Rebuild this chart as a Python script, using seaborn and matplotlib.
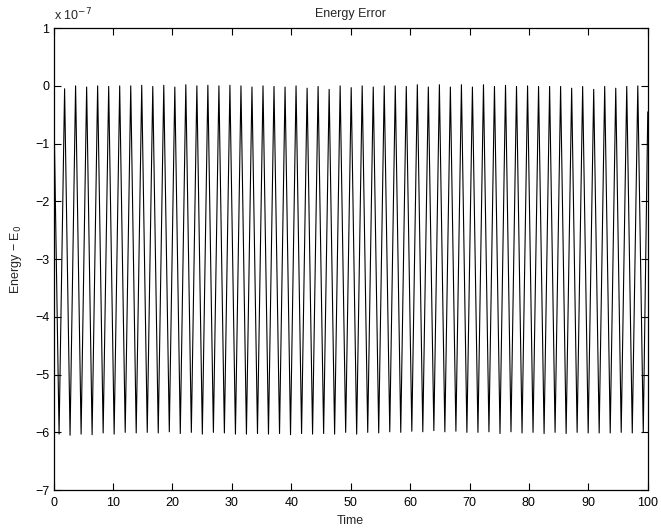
import numpy as np
import pandas as pd
import matplotlib
matplotlib.use("Agg")
import matplotlib.pyplot as plt
import seaborn as sns

# Peaks (tops, near 0) and troughs (near -6), in units of 1e-7
peak_times = [0.00, 1.86, 3.71, 5.57, 7.42, 9.28, 11.13, 12.99, 14.84, 16.70,
              18.55, 20.41, 22.26, 24.12, 25.97, 27.83, 29.68, 31.54, 33.39, 35.25,
              37.10, 38.96, 40.81, 42.67, 44.52, 46.38, 48.23, 50.09, 51.94, 53.80,
              55.65, 57.51, 59.36, 61.22, 63.07, 64.93, 66.78, 68.64, 70.49, 72.35,
              74.20, 76.06, 77.91, 79.77, 81.62, 83.48, 85.33, 87.19, 89.04, 90.90,
              92.75, 94.61, 96.46, 98.32]
peak_vals = [0.00, -0.05, 0.00, -0.02, 0.00, -0.01, 0.00, 0.00, 0.01, -0.01,
             0.01, -0.02, 0.02, 0.00, 0.01, 0.00, 0.01, 0.00, -0.02, 0.00,
             -0.01, -0.02, 0.00, -0.04, -0.01, -0.06, 0.00, -0.03, 0.00, -0.02,
             0.00, 0.00, -0.01, 0.02, -0.02, 0.02, -0.02, 0.02, -0.02, 0.02,
             -0.01, 0.01, -0.01, 0.00, -0.01, -0.01, -0.01, -0.04, -0.01, -0.06,
             -0.01, -0.04, -0.01, 0.00]
trough_times = [0.93, 2.78, 4.64, 6.49, 8.35, 10.20, 12.06, 13.91, 15.77, 17.62,
                19.48, 21.33, 23.19, 25.04, 26.90, 28.75, 30.61, 32.46, 34.32, 36.17,
                38.03, 39.88, 41.74, 43.59, 45.45, 47.30, 49.16, 51.01, 52.87, 54.72,
                56.58, 58.43, 60.29, 62.14, 64.00, 65.85, 67.71, 69.56, 71.42, 73.27,
                75.13, 76.98, 78.84, 80.69, 82.55, 84.40, 86.26, 88.11, 89.97, 91.82,
                93.68, 95.53, 97.39, 99.24]
trough_vals = [-6.03, -6.05, -6.03, -6.04, -6.01, -6.03, -6.00, -6.01, -6.00, -6.01,
               -5.99, -6.02, -6.00, -6.03, -6.00, -6.01, -6.03, -6.03, -6.02, -6.03,
               -6.02, -6.04, -6.02, -6.03, -6.02, -6.03, -6.00, -6.03, -6.00, -6.01,
               -5.99, -6.00, -5.98, -5.99, -5.97, -5.99, -5.98, -6.00, -6.00, -5.99,
               -6.02, -5.99, -6.01, -6.00, -6.02, -6.00, -6.02, -6.00, -6.01, -6.01,
               -6.01, -6.00, -6.01, -6.00]
end_time = [100.0]
end_val = [-0.45]

# build one series: peak, trough, peak, trough, ..., end
t = []
e = []
for pt, pv, tt, tv in zip(peak_times, peak_vals, trough_times, trough_vals):
    t += [pt, tt]
    e += [pv, tv]
t += end_time
e += end_val
df = pd.DataFrame({"Time": t, "err": e})

sns.set_style("ticks")
plt.rcParams['font.family'] = ['Liberation Sans', 'DejaVu Sans']
plt.rcParams['font.size'] = 9
plt.rcParams['axes.unicode_minus'] = True

fig = plt.figure(figsize=(6.61, 5.31), dpi=100)
ax = fig.add_axes([0.081, 0.077, 0.899, 0.870])

sns.lineplot(data=df, x="Time", y="err", color="black", linewidth=0.8,
             estimator=None, sort=False, ax=ax)

ax.set_xlim(0, 100)
ax.set_ylim(-7, 1)
ax.set_xticks(np.arange(0, 101, 10))
ax.set_yticks(np.arange(-7, 2, 1))
ax.tick_params(direction="in", top=True, right=True, length=5, width=0.8,
               labelsize=9, colors="black")
ax.tick_params(axis="x", pad=5)
ax.tick_params(axis="y", pad=3)
for s in ax.spines.values():
    s.set_linewidth(0.9)
    s.set_color("black")

ax.set_title("Energy Error", fontsize=9, pad=8)
ax.set_xlabel("Time", fontsize=9, labelpad=4)
ax.set_ylabel("Energy − E$_0$", fontsize=9, labelpad=8)
ax.text(0.0, 1.01, "x 10$^{-7}$", transform=ax.transAxes, fontsize=9,
        ha="left", va="bottom")

fig.savefig("out.png", dpi=100, facecolor="white")
